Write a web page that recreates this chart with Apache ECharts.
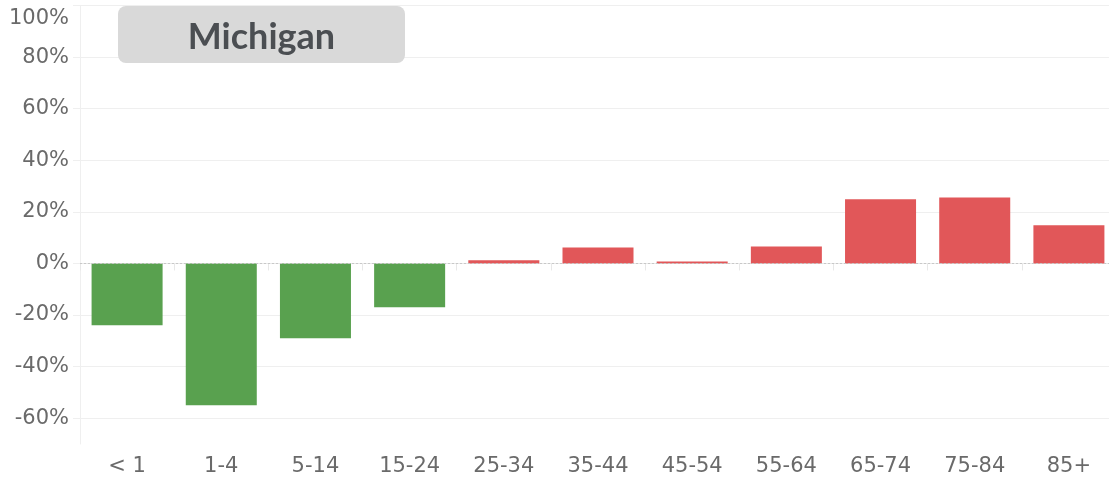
<!DOCTYPE html>
<html>
<head>
<meta charset="utf-8">
<script src="https://cdn.jsdelivr.net/npm/echarts@6/dist/echarts.min.js"></script>
<style>
  html, body { margin: 0; padding: 0; background: #fff; overflow: hidden; }
  #chart { width: 1116px; height: 479px; }
</style>
</head>
<body>
<div id="chart"></div>
<script>
// Age groups and percent change per group
const ageGroups = ['< 1', '1-4', '5-14', '15-24', '25-34', '35-44', '45-54', '55-64', '65-74', '75-84', '85+'];
const percentChange = [-24, -55, -29, -17, 1.2, 6.2, 0.8, 6.6, 24.9, 25.6, 14.8];
const yTicks = [-60, -40, -20, 0, 20, 40, 60, 80, 100];
const stateName = 'Michigan';

const GREEN = '#59a14f';
const RED = '#e15759';
const GRID = '#efefef';
const LABEL = '#6a6a6a';
const FONT = '"DejaVu Sans", "Noto Sans", sans-serif';

const chart = echarts.init(document.getElementById('chart'), null, { renderer: 'canvas' });

chart.setOption({
  animation: false,
  grid: { left: 80, right: 0, top: 5.5, bottom: 35, containLabel: false },
  xAxis: {
    type: 'category',
    data: ageGroups,
    boundaryGap: true,
    axisLine: { show: true, lineStyle: { color: '#e8e8e8', width: 1 } },
    axisTick: { show: true, alignWithLabel: false, length: 7, lineStyle: { color: '#e8e8e8' } },
    axisLabel: { color: LABEL, fontFamily: FONT, fontSize: 21, margin: 12 },
    splitLine: { show: false }
  },
  yAxis: {
    type: 'value',
    min: -70,
    max: 100,
    axisLine: { show: true, lineStyle: { color: GRID } },
    axisTick: { show: true, length: 7, lineStyle: { color: GRID }, customValues: yTicks },
    axisLabel: {
      color: LABEL, fontFamily: FONT, fontSize: 21, margin: 11,
      customValues: yTicks,
      // the top label sits just below the chart edge
      formatter: v => (v === 100 ? '{top|' + v + '%}' : v + '%'),
      rich: { top: { color: LABEL, fontFamily: FONT, fontSize: 21, padding: [27, 0, 0, 0] } }
    },
    splitLine: { show: true, lineStyle: { color: GRID, width: 1 } }
  },
  series: [{
    type: 'bar',
    data: percentChange.map(v => ({ value: v, itemStyle: { color: v < 0 ? GREEN : RED } })),
    barCategoryGap: '24.6%',
    markLine: {
      silent: true,
      symbol: 'none',
      label: { show: false },
      lineStyle: { color: '#c8c8c8', type: [2, 2], width: 1 },
      data: [{ yAxis: 0 }]
    }
  }],
  graphic: [{
    type: 'group',
    left: 118,
    top: 6,
    z: 100,
    children: [
      { type: 'rect', z: 100, shape: { x: 0, y: 0, width: 287, height: 57, r: 8 }, style: { fill: '#d9d9d9' } },
      { type: 'text', z: 101, x: 143.5, y: 31, style: { text: stateName, font: 'bold 36px Lato, "Noto Sans", sans-serif', fill: '#4b4e52', align: 'center', verticalAlign: 'middle' } }
    ]
  }]
});
</script>
</body>
</html>
